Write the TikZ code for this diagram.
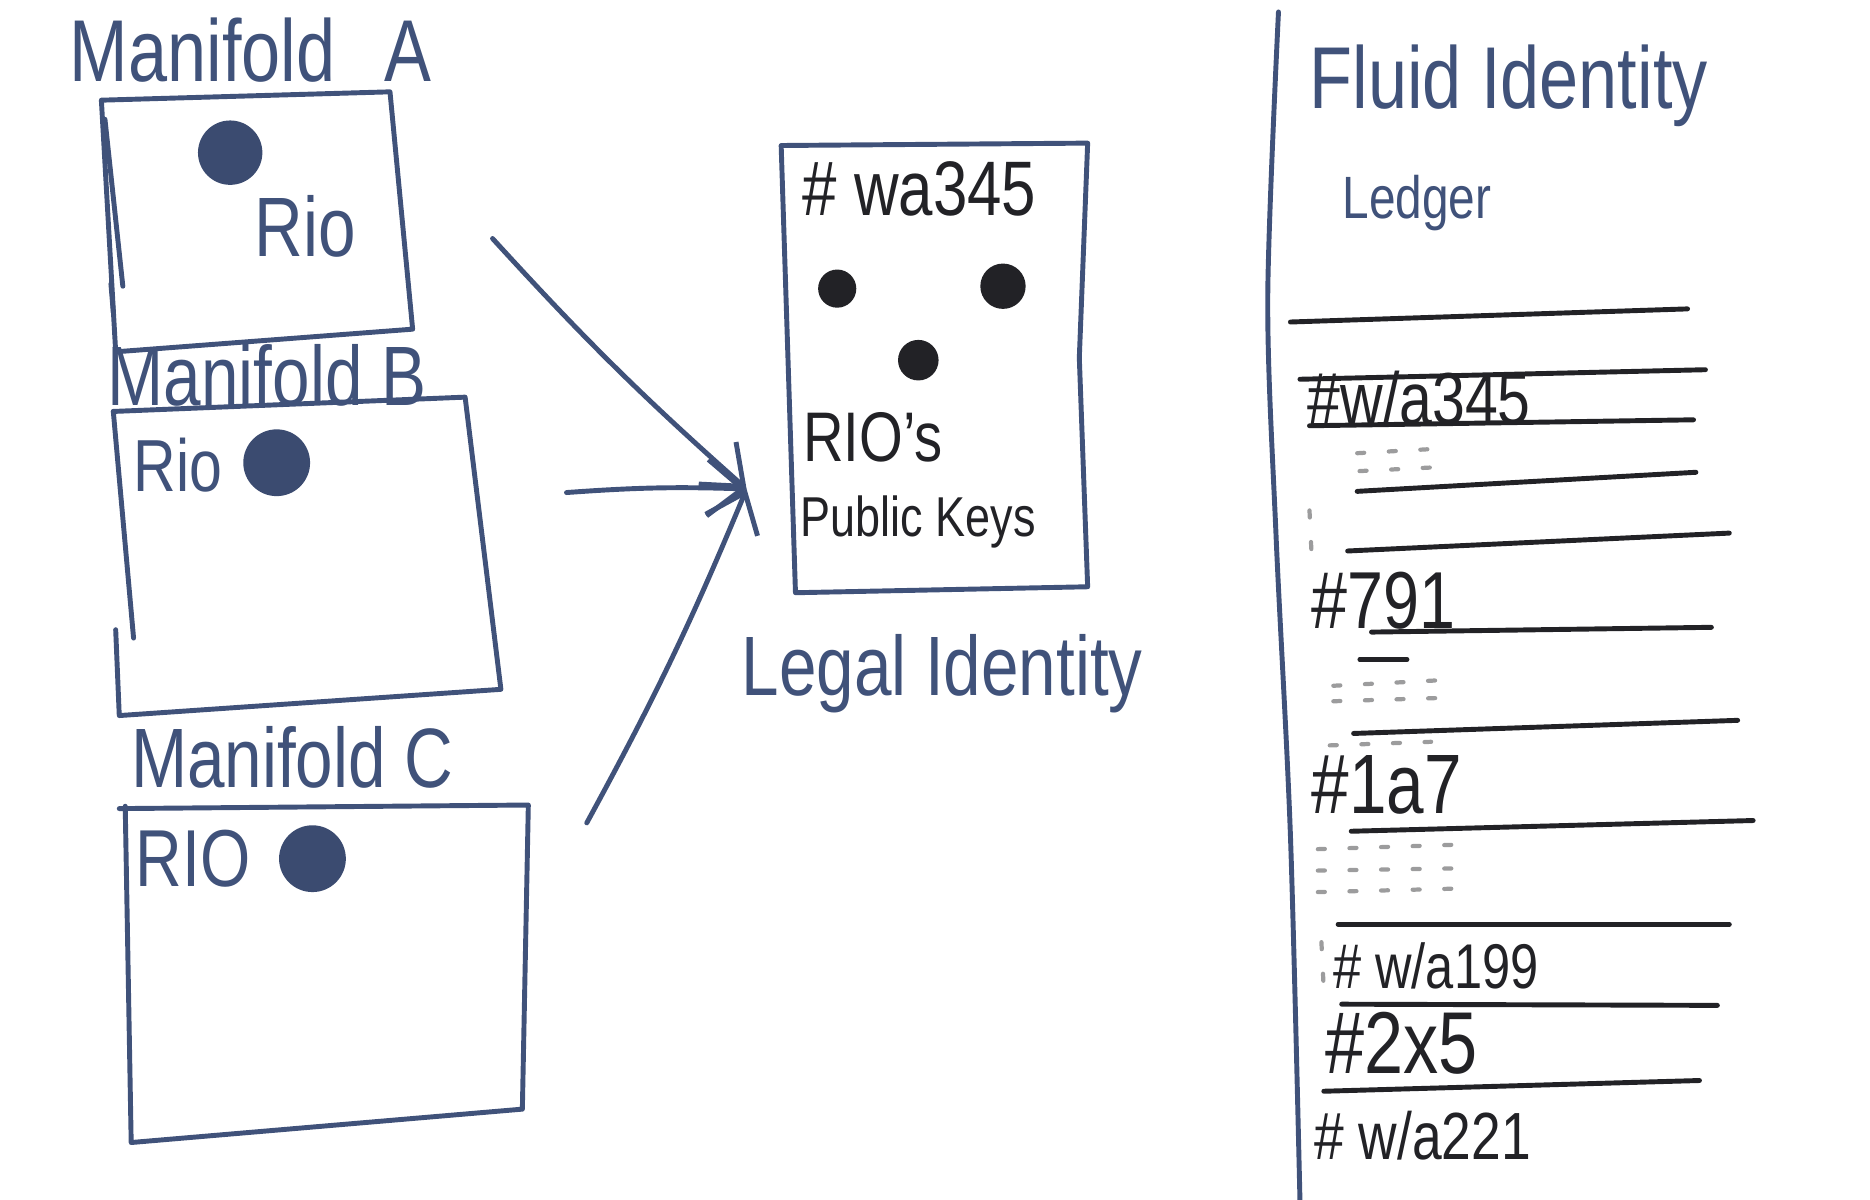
\documentclass[tikz,border=0pt]{standalone}
\usepackage{fontspec}
\setmainfont{Liberation Sans}[FakeStretch=0.8]
\usetikzlibrary{arrows.meta}
\definecolor{slate}{RGB}{64,82,122}
\definecolor{ink}{RGB}{34,34,38}
\tikzset{
hand/.style={text=slate,inner sep=0pt,font=\fontsize{24}{28}\selectfont},
inkhand/.style={text=ink,inner sep=0pt,font=\fontsize{22}{26}\selectfont},
entry/.style={text=ink,inner sep=0pt,font=\fontsize{22}{26}\selectfont},
scribble/.style={ink!45,line width=1.2pt,dash pattern=on 2pt off 7pt},
}
\begin{document}
\begin{tikzpicture}[x=0.011926cm,y=-0.011926cm,line width=1.4pt,line cap=round,line join=round,>={Straight Barb[length=10pt,width=16pt]}]
\useasboundingbox (0,0) rectangle (1568,1006);
% manifolds
\draw[slate] (85,84)--(327,77)--(346,276)--(97,295)--cycle;
\draw[slate] (88,100)--(103,240);
\draw[slate] (93,238)--(95,262);
\draw[slate] (95,345)--(390,333)--(420,578)--(100,600)--(97,528);
\draw[slate] (95,345)--(112,535);
\draw[slate] (100,678)--(443,675)--(438,930)--(110,958)--(105,676);
\fill[slate!92!black] (193,128) circle (27);
\fill[slate!92!black] (232,388) circle (28);
\fill[slate!92!black] (262,720) circle (28);
\node[hand,font=\fontsize{25}{30}\selectfont] (manA) at (210,42) {Manifold\,\, A};
\node[hand] (rioA) at (256,190) {Rio};
\node[hand] (manB) at (224,315) {Manifold B};
\node[hand,font=\fontsize{21}{25}\selectfont] (rioB) at (149,390) {Rio};
\node[hand] (manC) at (245,635) {Manifold C};
\node[hand,font=\fontsize{23}{27}\selectfont] (rioC) at (162,720) {RIO};
% arrows
\coordinate (fromA) at (413,200);
\coordinate (fromB) at (475,413);
\coordinate (fromC) at (492,690);
\coordinate (tip) at (626,410);
\draw[slate,->] (fromA) to[bend right=3] (tip);
\draw[slate,->] (fromB) to[bend left=3] (tip);
\draw[slate,->] (fromC) to[bend right=3] (tip);
% legal identity
\draw[slate] (655,122)--(912,120)--(905,300)--(912,492)--(667,497)--cycle;
\fill[ink] (702,242) circle (16);
\fill[ink] (841,240) circle (19);
\fill[ink] (770,302) circle (17);
\node[inkhand] (hash) at (771,158) {\# wa345};
\node[inkhand,font=\fontsize{20}{24}\selectfont] (rios) at (732,367) {RIO's};
\node[inkhand,font=\fontsize{16}{20}\selectfont] (keys) at (770,438) {Public Keys};
\node[hand] (legal) at (790,565) {Legal Identity};
% ledger
\draw[slate] plot[smooth] coordinates {(1072,10) (1063,250) (1070,450) (1082,700) (1090,1006)};
\node[hand,font=\fontsize{25}{30}\selectfont] (fluid) at (1265,72) {Fluid Identity};
\node[hand,font=\fontsize{17}{20}\selectfont] (ledger) at (1188,170) {Ledger};
\foreach \xa/\ya/\xb/\yb in {1082/270/1415/259,1090/318/1430/310,1098/357/1420/352,1138/412/1422/396,1130/462/1450/447,1150/530/1435/526,1135/615/1457/604,1133/697/1470/688,1122/775/1450/775,1125/842/1440/843,1110/915/1425/906}
{
\draw[ink] (\xa,\ya)--(\xb,\yb);
}
\node[entry,font=\fontsize{21}{25}\selectfont] (e1) at (1190,334) {\#w/a345};
\node[entry,font=\fontsize{23}{27}\selectfont] (e2) at (1160,504) {\#791};
\node[entry,font=\fontsize{24}{28}\selectfont] (e3) at (1163,658) {\#1a7};
\node[entry,font=\fontsize{18}{22}\selectfont] (e4) at (1204,810) {\# w/a199};
\node[entry,font=\fontsize{25}{30}\selectfont] (e5) at (1175,875) {\#2x5};
\node[entry,font=\fontsize{19}{23}\selectfont] (e6) at (1193,952) {\# w/a221};
% faint scribbles
\draw[scribble] (1138,380)--(1210,376);
\draw[scribble] (1140,395)--(1200,392);
\draw[scribble] (1098,428)--(1100,470);
\draw[ink,line width=1.2pt] (1140,553)--(1180,553);
\draw[scribble] (1118,575)--(1215,570);
\draw[scribble] (1118,588)--(1215,585);
\draw[scribble] (1115,625)--(1200,622);
\draw[scribble] (1105,712)--(1230,708);
\draw[scribble] (1105,730)--(1230,728);
\draw[scribble] (1105,748)--(1225,745);
\draw[scribble] (1108,790)--(1110,830);
\end{tikzpicture}
\end{document}
